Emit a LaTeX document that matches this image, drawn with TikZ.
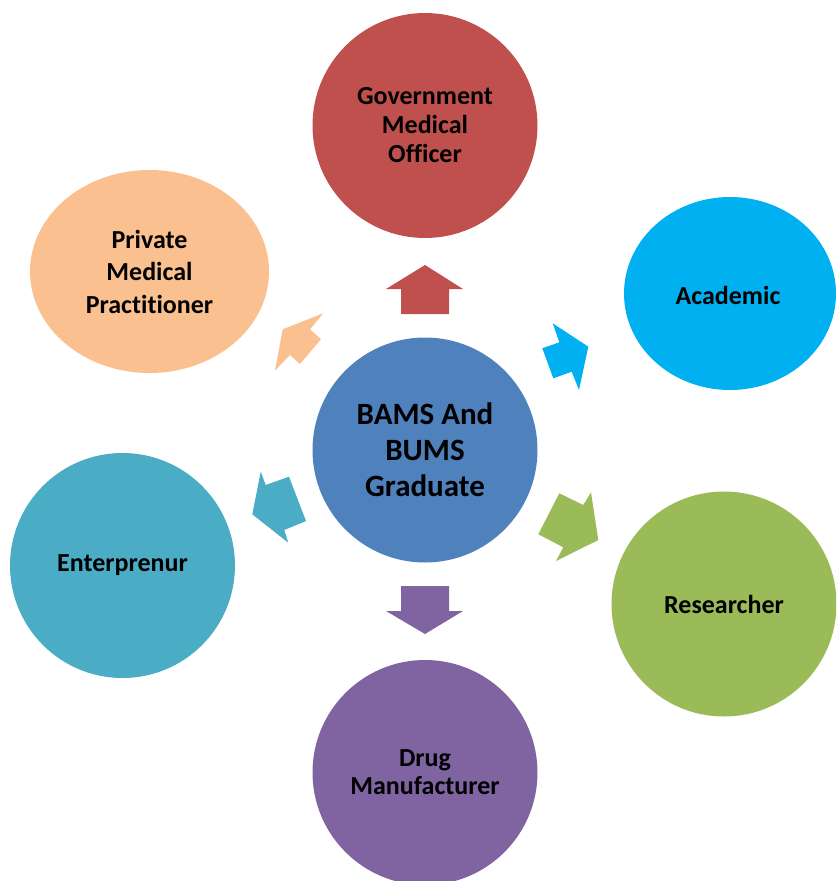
\documentclass[tikz,border=0pt]{standalone}
\usepackage{fontspec}
\setmainfont{Carlito}[Ligatures=NoCommon]
\usetikzlibrary{shapes.geometric}
\definecolor{cred}{HTML}{C0504D}
\definecolor{csky}{HTML}{00B0F0}
\definecolor{cpeach}{HTML}{FAC090}
\definecolor{cblue}{HTML}{4F81BD}
\definecolor{cteal}{HTML}{4BACC6}
\definecolor{cgreen}{HTML}{9BBB59}
\definecolor{cpurple}{HTML}{8064A2}
\begin{document}
\begin{tikzpicture}[x=1pt,y=-1pt,
  bubble/.style={circle, minimum size=225pt, inner sep=0pt, align=center, text=black,
    font=\bfseries\fontsize{26pt}{29pt}\selectfont},
  oval/.style={ellipse, inner sep=0pt, align=center, text=black,
    font=\bfseries\fontsize{26pt}{32.5pt}\selectfont}]
\useasboundingbox (0,0) rectangle (836,881);
\clip (0,0) rectangle (836,881);
% satellites
\node[bubble, fill=cred] (gov) at (425,125.5) {Government\\Medical\\Officer};
\node[oval, fill=cpeach, minimum width=239pt, minimum height=203pt] (pmp) at (149.5,271.5) {Private\\Medical\\Practitioner};
\node[oval, fill=csky, minimum width=212pt, minimum height=193pt] (aca) at (730,293.5) {};
\node[font=\bfseries\fontsize{26pt}{29pt}\selectfont] (acatext) at (728,295) {Academic};
\node[bubble, fill=cteal] (ent) at (122.5,565.5) {Enterprenur};
\node[bubble, fill=cgreen] (res) at (724,604) {Researcher};
\node[bubble, fill=cpurple, font=\bfseries\fontsize{26pt}{28pt}\selectfont] (drug) at (425,772.5) {Drug\\Manufacturer};
% centre
\node[bubble, fill=cblue, font=\bfseries\fontsize{31pt}{36pt}\selectfont] (grad) at (425,450) {BAMS And\\BUMS\\Graduate};
% block arrows
\fill[cred] (425,265) -- (463,289) -- (449,289) -- (449,314) -- (401,314) -- (401,289) -- (386,289) -- cycle;
\fill[cpeach] (323.3,313.3) -- (282.7,329.3) -- (275,370.7) -- (290,355) -- (300,364) -- (321,339.3) -- (310,329.3) -- cycle;
\fill[csky] (552.7,323.3) -- (559.3,342.3) -- (542.3,348.3) -- (553.3,378.3) -- (571.7,371.7) -- (579,390) -- (588.3,346.7) -- cycle;
\fill[cteal] (260.7,471.7) -- (265.7,485) -- (289,476.7) -- (306,521) -- (284.3,530) -- (288.3,542.7) -- (252.3,514.3) -- cycle;
\fill[cgreen] (591,492.3) -- (583.3,505) -- (559.3,493.3) -- (538.3,534.3) -- (563.3,547.3) -- (556,561) -- (598.3,540) -- cycle;
\fill[cpurple] (401,586) -- (449,586) -- (449,611) -- (463,611) -- (425,634) -- (386,611) -- (401,611) -- cycle;
\end{tikzpicture}
\end{document}
